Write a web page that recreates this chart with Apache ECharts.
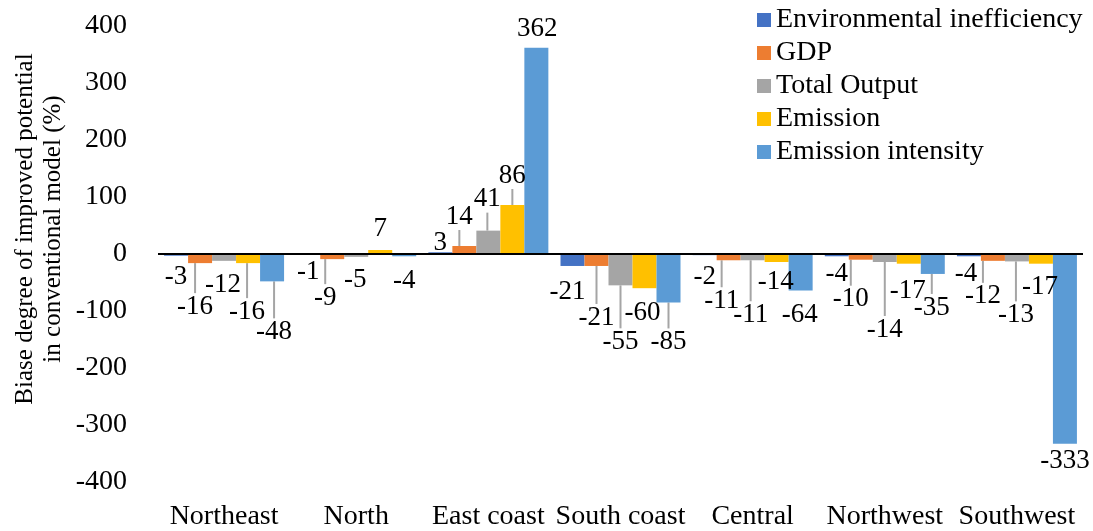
<!DOCTYPE html>
<html>
<head>
<meta charset="utf-8">
<script src="https://cdn.jsdelivr.net/npm/echarts@6/dist/echarts.min.js"></script>
<style>
  html, body { margin: 0; padding: 0; background: #fff; }
  #chart { width: 1093px; height: 531px; }
</style>
</head>
<body>
<div id="chart"></div>
<script>
// Regions on the category axis
const REGIONS = ['Northeast', 'North', 'East coast', 'South coast', 'Central', 'Northwest', 'Southwest'];

// Biase degree (%) per indicator, one value per region
const ENV_INEFFICIENCY = [-3, -1, 3, -21, -2, -4, -4];
const GDP = [-16, -9, 14, -21, -11, -10, -12];
const TOTAL_OUTPUT = [-12, -5, 41, -55, -11, -14, -13];
const EMISSION = [-16, 7, 86, -60, -14, -17, -17];
const EMISSION_INTENSITY = [-48, -4, 362, -85, -64, -35, -333];

const SERIES_NAMES = ['Environmental inefficiency', 'GDP', 'Total Output', 'Emission', 'Emission intensity'];
const SERIES_VALUES = [ENV_INEFFICIENCY, GDP, TOTAL_OUTPUT, EMISSION, EMISSION_INTENSITY];
const SERIES_COLORS = ['#4472C4', '#ED7D31', '#A5A5A5', '#FFC000', '#5B9BD5'];

// Y axis ticks
const Y_MIN = -400, Y_MAX = 400, Y_STEP = 100;

// Data-label nudges [dx, dy] in pixels, so the crowded labels stagger
const LABEL_SHIFT = [
  [[0, 4], [0, 0], [0, 8], [-5, 8], [0, 4], [0, 0], [-3, 0]],
  [[-5, 26], [-7, 21], [-5, -12], [0, 34], [-7, 23], [-10, 22], [-10, 18]],
  [[-1, 7], [-1, 6], [-1, -14], [0, 39], [-2, 37], [0, 50], [-1, 36]],
  [[-1, 31], [0, -4], [0, -12], [-2, 7], [-1, 2], [-1, 10], [-1, 6]],
  [[2, 33], [0, 7], [1, -1], [0, 22], [-1, 7], [-1, 16], [0, 0]]
];

const FONT = "'Liberation Serif', 'Times New Roman', serif";

const chart = echarts.init(document.getElementById('chart'), null, { renderer: 'canvas' });

const series = SERIES_NAMES.map((name, si) => {
  const s = {
    name: name,
    type: 'bar',
    barWidth: 24,
    barGap: '0%',
    itemStyle: { color: SERIES_COLORS[si] },
    label: {
      show: true,
      fontFamily: FONT,
      fontSize: 27,
      color: '#000',
      distance: 4
    },
    labelLine: {
      show: false,
      lineStyle: { color: '#A5A5A5', width: 2 }
    },
    labelLayout: function (p) {
      const sh = LABEL_SHIFT[p.seriesIndex][p.dataIndex];
      return { dx: sh[0], dy: sh[1] };
    },
    data: SERIES_VALUES[si].map((v, ci) => ({
      value: v,
      label: { position: v < 0 ? 'bottom' : 'top' },
      labelLine: { show: Math.abs(LABEL_SHIFT[si][ci][1]) >= 12 }
    }))
  };
  if (si === 0) {
    // zero baseline across the plot
    s.markLine = {
      silent: true,
      symbol: ['none', 'none'],
      label: { show: false },
      lineStyle: { color: '#000', width: 2, type: 'solid' },
      data: [{ yAxis: 0 }],
      z: 10
    };
  }
  return s;
});

chart.setOption({
  animation: false,
  backgroundColor: '#fff',
  grid: { left: 158, right: 10, top: 26, bottom: 49, containLabel: false },
  legend: {
    orient: 'vertical',
    left: 757,
    top: 6,
    padding: 0,
    icon: 'rect',
    itemWidth: 14,
    itemHeight: 14,
    itemGap: 5,
    textStyle: { fontFamily: FONT, fontSize: 28, color: '#000', lineHeight: 28 },
    data: SERIES_NAMES
  },
  xAxis: {
    type: 'category',
    data: REGIONS,
    axisLine: { show: false, onZero: false },
    axisTick: { show: false },
    axisLabel: { fontFamily: FONT, fontSize: 28, color: '#000', margin: 21, interval: 0 }
  },
  yAxis: {
    type: 'value',
    min: Y_MIN,
    max: Y_MAX,
    interval: Y_STEP,
    axisLine: { show: false },
    axisTick: { show: false },
    splitLine: { show: false },
    axisLabel: { fontFamily: FONT, fontSize: 28, color: '#000', margin: 31 }
  },
  graphic: [{
    type: 'text',
    x: 39,
    y: 229,
    rotation: Math.PI / 2,
    style: {
      text: 'Biase degree of improved potential\nin conventional model (%)',
      font: "25px 'Liberation Serif', 'Times New Roman', serif",
      fill: '#000',
      textAlign: 'center',
      textVerticalAlign: 'middle',
      lineHeight: 28
    }
  }],
  series: series
});
</script>
</body>
</html>
